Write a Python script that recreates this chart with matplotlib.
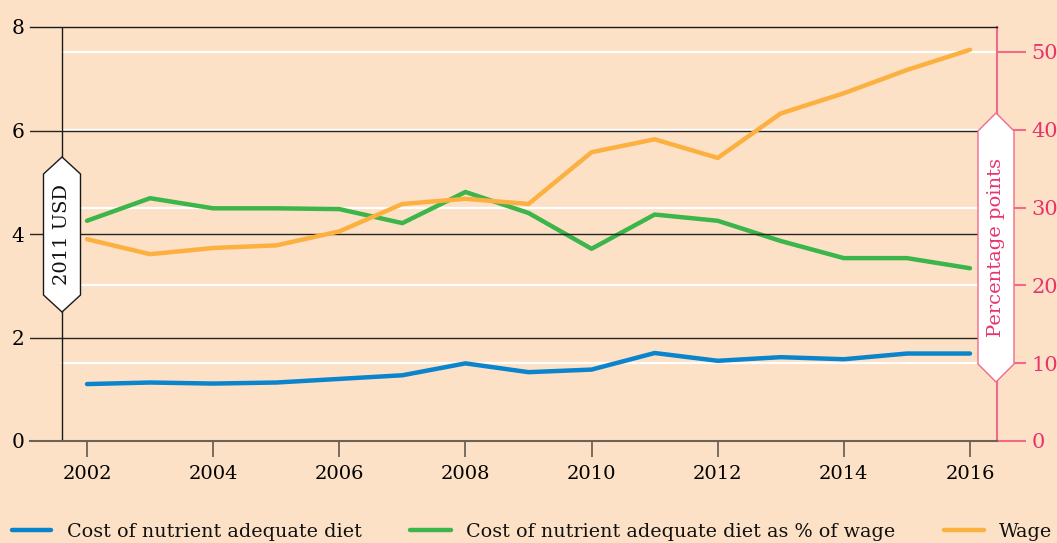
import matplotlib.pyplot as plt
import numpy as np
from matplotlib.patches import Polygon
from matplotlib.lines import Line2D

# Données (coût en USD 2011, part du salaire en points de pourcentage)
annees = [2002, 2003, 2004, 2005, 2006, 2007, 2008, 2009, 2010, 2011, 2012, 2013, 2014, 2015, 2016]
cout_regime = [1.10, 1.13, 1.11, 1.13, 1.20, 1.27, 1.50, 1.33, 1.38, 1.70, 1.55, 1.62, 1.58, 1.69, 1.69]
part_salaire = [28.3, 31.2, 29.9, 29.9, 29.8, 28.0, 32.0, 29.3, 24.7, 29.1, 28.3, 25.7, 23.5, 23.5, 22.2]
salaire = [3.90, 3.61, 3.73, 3.78, 4.05, 4.58, 4.68, 4.58, 5.58, 5.83, 5.47, 6.33, 6.72, 7.17, 7.56]

ticks_gauche = [0, 2, 4, 6, 8]
ticks_droite = [0, 10, 20, 30, 40, 50]
ticks_x = [2002, 2004, 2006, 2008, 2010, 2012, 2014, 2016]

noms = ["Cost of nutrient adequate diet",
        "Cost of nutrient adequate diet as % of wage",
        "Wage"]

fond = "#fce1c6"
bleu = "#0a84cc"
vert = "#3cb54a"
orange = "#fbb040"
rose = "#e8336b"
rose_axe = "#f06a8a"
gris = "#6e6258"

plt.rcParams['font.family'] = ['DejaVu Serif']
plt.rcParams['font.size'] = 13.8

W, H = 1057, 543
fig = plt.figure(figsize=(W / 100, H / 100), dpi=100, facecolor=fond)


def px(x, y):
    # pixels -> fraction de figure
    return x / W, 1 - y / H


ax = fig.add_axes([30 / W, 1 - 441 / H, 967 / W, 414 / H])
ax2 = ax.twinx()
ax.set_zorder(ax2.get_zorder() + 1)
ax.patch.set_visible(False)
ax2.patch.set_facecolor(fond)

x0, x1 = 2001.096, 2016.428
ax.set_xlim(x0, x1)
ax.set_ylim(0, 8)
ax2.set_ylim(0, 53.2)

# lignes de grille
for v in ticks_droite[1:]:
    ax2.axhline(v, xmin=(2001.603 - x0) / (x1 - x0), xmax=1, color="white", lw=1.6, zorder=0)
for v in ticks_gauche[1:-1]:
    ax.axhline(v, color="#2a2420", lw=1.0, zorder=1)
ax.axvline(2001.603, color="#1a1a1a", lw=1.0, zorder=1)

ax.plot(annees, cout_regime, color=bleu, lw=3.2, solid_capstyle="round", zorder=3)
ax2.plot(annees, part_salaire, color=vert, lw=3.2, solid_capstyle="round", zorder=3)
ax.plot(annees, salaire, color=orange, lw=3.2, solid_capstyle="round", zorder=3)

for s in ["left", "right"]:
    ax.spines[s].set_visible(False)
ax.spines["top"].set_color("#1a1a1a")
ax.spines["top"].set_linewidth(1.0)
ax.spines["bottom"].set_color(gris)
ax.spines["bottom"].set_linewidth(1.5)
for s in ["left", "top", "bottom"]:
    ax2.spines[s].set_visible(False)
ax2.spines["right"].set_color(rose_axe)
ax2.spines["right"].set_linewidth(1.5)

ax.set_yticks(ticks_gauche)
ax.tick_params(axis="y", length=0, pad=4.3, labelsize=14.5)
ax.set_xticks(ticks_x)
ax.tick_params(axis="x", direction="out", length=11.5, width=1.3, color=gris, pad=6, labelsize=14)

ax2.set_yticks(ticks_droite)
ax2.tick_params(axis="y", length=21, width=1.5, color=rose_axe, labelcolor=rose, pad=3.6, labelsize=15)


def etiquette(xc, ytop, ybas, demi, epaule, texte, couleur, bord):
    pts = [(xc, ytop), (xc + demi, ytop + epaule), (xc + demi, ybas - epaule),
           (xc, ybas), (xc - demi, ybas - epaule), (xc - demi, ytop + epaule)]
    poly = Polygon([px(a, b) for a, b in pts], closed=True, transform=fig.transFigure,
                   facecolor="white", edgecolor=bord, lw=1.0, zorder=10)
    fig.add_artist(poly)
    fig.text(*px(xc, (ytop + ybas) / 2), texte, rotation=90, ha="center", va="center",
             color=couleur, fontsize=14, zorder=11)


etiquette(62, 157, 312, 18.5, 17, "2011 USD", "#111111", "#1a1a1a")
etiquette(996, 113, 382, 18, 18, "Percentage points", rose, rose_axe)

# légende
couleurs = [bleu, vert, orange]
positions = [(12, 51, 67), (410, 451, 466), (944, 984, 999)]
for c, nom, (a, b, t) in zip(couleurs, noms, positions):
    fig.add_artist(Line2D([a / W, b / W], [1 - 530 / H] * 2, color=c, lw=3.2,
                          solid_capstyle="round", transform=fig.transFigure))
    fig.text(t / W, 1 - 537 / H, nom, ha="left", va="baseline", color="#111111")

fig.savefig("out.png", dpi=100, facecolor=fond)
